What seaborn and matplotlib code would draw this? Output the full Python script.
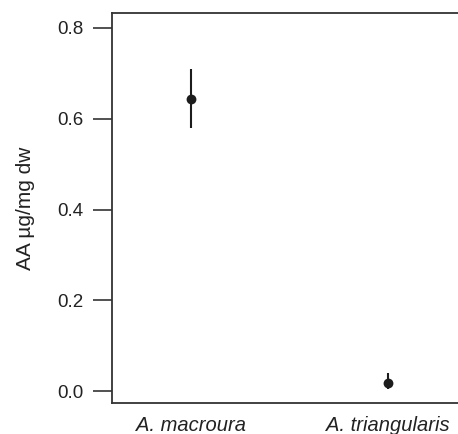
import matplotlib
matplotlib.use("Agg")
import matplotlib.pyplot as plt
import seaborn as sns
import pandas as pd

# ------------------------------
# Data
# ------------------------------
species = ["A. macroura", "A. triangularis"]
aa_mean = [0.643, 0.018]
aa_lower = [0.580, 0.004]
aa_upper = [0.710, 0.040]

df = pd.DataFrame({"species": species, "aa": aa_mean})

sns.set_style("ticks")
plt.rcParams["font.family"] = ["Liberation Sans", "DejaVu Sans"]

fig = plt.figure(figsize=(4.58, 4.34), dpi=100)
# right spine falls outside the picture in the reference
ax = fig.add_axes([0.2445, 0.0714, 0.786, 0.8986])

ink = "#1c1c1c"
yerr = [[m - lo for m, lo in zip(aa_mean, aa_lower)],
        [hi - m for m, hi in zip(aa_mean, aa_upper)]]

sns.scatterplot(data=df, x="species", y="aa", color=ink, s=50,
                edgecolor=ink, linewidth=0, zorder=3, ax=ax)
ax.errorbar(species, aa_mean, yerr=yerr, fmt="none", ecolor=ink,
            elinewidth=1.5, capsize=0, zorder=2)

ax.set_xlim(-0.401, 1.426)
ax.set_ylim(-0.0264, 0.833)
ax.set_yticks([0.0, 0.2, 0.4, 0.6, 0.8])
ax.set_yticklabels(["0.0", "0.2", "0.4", "0.6", "0.8"])
ax.set_xlabel("")
ax.set_ylabel("AA µg/mg dw", fontsize=15, color="#222222", labelpad=16)

ax.tick_params(axis="y", length=13.5, width=1.2, color="#333333",
               labelsize=13.5, labelcolor="#222222", pad=7)
ax.tick_params(axis="x", length=0, labelsize=14.5, labelcolor="#222222", pad=9)
for lab in ax.get_xticklabels():
    lab.set_fontstyle("italic")

for side in ["left", "top", "bottom", "right"]:
    ax.spines[side].set_color("#333333")
    ax.spines[side].set_linewidth(1.3)

fig.savefig("out.png", dpi=100)
